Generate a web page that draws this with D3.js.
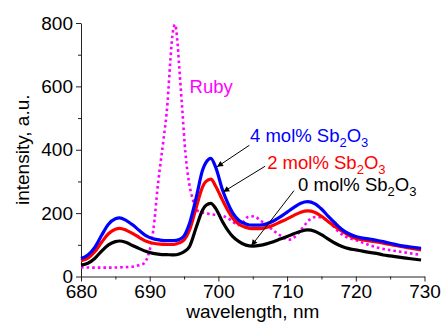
<!DOCTYPE html>
<html>
<head>
<meta charset="utf-8">
<script src="https://cdn.jsdelivr.net/npm/d3@7"></script>
<style>
  html, body { margin: 0; padding: 0; background: #fff; }
  svg { display: block; font-family: "Liberation Sans", Arial, sans-serif; }
</style>
</head>
<body>
<div id="chart"></div>
<script>
// wavelength grid shared by the three Sb2O3 spectra (nm)
const wavelength = [680, 681, 682, 683, 684, 685, 685.6, 686.5, 687.5, 688.5, 689.5, 690.5, 691.5, 692.5, 693.5,
  694.3, 695, 695.8, 696.8, 697.7, 698.2, 698.9, 699.6, 700.6, 701.4, 702.1, 703, 704, 705, 706, 707, 708, 709,
  710, 711, 712, 713, 714, 715, 716, 717, 718, 719, 720, 721, 722, 723, 724, 725, 726, 727, 728, 729.5];

const sb4 = [57, 68, 92, 130, 165, 182, 185, 178, 163, 145, 128, 119, 115, 113, 113,
  117, 128, 168, 252, 336, 360, 373, 345, 273, 230, 200, 177, 166, 162, 162, 166, 175, 188,
  203, 218, 231, 236, 230, 213, 190, 168, 148, 135, 126, 121, 118, 114, 110, 105, 100, 96, 93, 89];

const sb2 = [50, 58, 78, 108, 135, 149, 152, 147, 136, 123, 111, 105, 102, 101, 101,
  106, 115, 147, 220, 283, 300, 307, 285, 241, 208, 184, 165, 155, 151, 151, 155, 162, 172,
  182, 193, 203, 207, 203, 190, 173, 157, 143, 130, 120, 116, 112, 109, 105, 101, 97, 93, 89, 84];

const sb0 = [36, 42, 57, 80, 100, 110, 112, 108, 98, 88, 79, 73, 70, 69, 68,
  71, 78, 95, 157, 210, 225, 231, 215, 173, 145, 126, 110, 99, 96, 98, 103, 110, 118,
  126, 135, 143, 147, 143, 132, 118, 105, 95, 88, 84, 80, 76, 73, 68, 65, 62, 59, 56, 52];

// ruby reference spectrum
const rubyWl = [680, 682, 684, 686, 687.5, 688.5, 689.2, 689.8, 690.3, 690.7, 691.1, 691.5, 692, 692.6, 693, 693.3,
  693.7, 694, 694.3, 694.7, 695.2, 695.7, 696.3, 696.8, 697.5, 698.2, 699, 700, 701, 702, 702.8, 703.6, 704.3,
  705.2, 706.2, 707.2, 708.2, 709.2, 710.2, 711.2, 712.2, 713.2, 714.2, 715.2, 716.2, 717.5, 718.5, 720, 721.5,
  723, 724.8, 726.5, 728, 729.5];
const ruby = [29, 28, 28, 29, 31, 36, 42, 68, 115, 178, 270, 345, 430, 550, 680, 760,
  795, 750, 660, 540, 390, 300, 241, 210, 203, 200, 196, 194, 188, 175, 162, 172, 188,
  190, 175, 160, 142, 127, 116, 126, 152, 178, 188, 185, 170, 141, 126, 115, 103,
  92, 84, 78, 73, 68];

const xTicks = [680, 690, 700, 710, 720, 730];
const xMinor = [685, 695, 705, 715, 725];
const yTicks = [0, 200, 400, 600, 800];
const yMinor = [100, 300, 500, 700];

// Sb2O3 labels: anchor point, arrow start and arrow tip (nm, a.u.)
const labelNames = ['4 mol% Sb', '2 mol% Sb', '0 mol% Sb'];
const labelColors = ['#0000ff', '#ff0000', '#000000'];
const labelAt = [[704.6, 424], [707.1, 339], [711.6, 269]];
const arrowFrom = [[704.5, 414], [706.8, 348], [711, 271]];
const arrowTo = [[699.8, 346], [700.7, 267], [704.8, 97]];

const W = 441, H = 325;
const margin = { top: 23, right: 16.5, bottom: 48.5, left: 81 };

const svg = d3.select('#chart').append('svg')
  .attr('width', W)
  .attr('height', H);

const x = d3.scaleLinear().domain([680, 730]).range([margin.left, W - margin.right]);
const y = d3.scaleLinear().domain([0, 800]).range([H - margin.bottom, margin.top]);

// axes
svg.append('g')
  .attr('transform', `translate(${margin.left},0)`)
  .call(d3.axisLeft(y).tickValues(yTicks).tickSize(5).tickSizeOuter(0).tickPadding(3));
svg.append('g')
  .attr('transform', `translate(${margin.left},0)`)
  .call(d3.axisLeft(y).tickValues(yMinor).tickSize(3).tickFormat(''))
  .select('.domain').remove();

svg.append('g')
  .attr('transform', `translate(0,${H - margin.bottom})`)
  .call(d3.axisBottom(x).tickValues(xTicks).tickSize(5).tickSizeOuter(0).tickPadding(3));
svg.append('g')
  .attr('transform', `translate(0,${H - margin.bottom})`)
  .call(d3.axisBottom(x).tickValues(xMinor).tickSize(3).tickFormat(''))
  .select('.domain').remove();

svg.selectAll('.tick text')
  .attr('font-size', 19)
  .attr('font-family', '"Liberation Sans", Arial, sans-serif')
  .attr('fill', '#000');
svg.selectAll('.domain, .tick line').attr('stroke', '#222');

// axis titles
svg.append('text')
  .attr('transform', `translate(29,${(y(0) + y(800)) / 2}) rotate(-90)`)
  .attr('text-anchor', 'middle')
  .attr('font-size', 19)
  .text('intensity, a.u.');

svg.append('text')
  .attr('x', (x(680) + x(730)) / 2)
  .attr('y', 318)
  .attr('text-anchor', 'middle')
  .attr('font-size', 19)
  .text('wavelength, nm');

// spectra
const line = d3.line()
  .x(d => x(d[0]))
  .y(d => y(d[1]))
  .curve(d3.curveMonotoneX);

svg.append('path')
  .datum(rubyWl.map((w, i) => [w, ruby[i]]))
  .attr('d', line)
  .attr('fill', 'none')
  .attr('stroke', '#ff00ff')
  .attr('stroke-width', 2.6)
  .attr('stroke-dasharray', '2.6,3');

[[sb0, '#000000'], [sb2, '#ff0000'], [sb4, '#0000ff']].forEach(([vals, color]) => {
  svg.append('path')
    .datum(wavelength.map((w, i) => [w, vals[i]]))
    .attr('d', line)
    .attr('fill', 'none')
    .attr('stroke', color)
    .attr('stroke-width', 3.2)
    .attr('stroke-linejoin', 'round');
});

// ruby label
svg.append('text')
  .attr('x', x(695.8))
  .attr('y', y(580))
  .attr('font-size', 18.5)
  .attr('fill', '#ff00ff')
  .text('Ruby');

// arrows
svg.append('defs').append('marker')
  .attr('id', 'arr')
  .attr('viewBox', '0 0 10 10')
  .attr('refX', 10)
  .attr('refY', 5)
  .attr('markerWidth', 8)
  .attr('markerHeight', 6)
  .attr('markerUnits', 'userSpaceOnUse')
  .attr('orient', 'auto')
  .append('path')
  .attr('d', 'M0,0L10,5L0,10Z')
  .attr('fill', '#000');

arrowFrom.forEach((a, i) => {
  svg.append('line')
    .attr('x1', x(a[0])).attr('y1', y(a[1]))
    .attr('x2', x(arrowTo[i][0])).attr('y2', y(arrowTo[i][1]))
    .attr('stroke', '#000')
    .attr('stroke-width', 1)
    .attr('marker-end', 'url(#arr)');
});

// Sb2O3 labels with subscripts
labelNames.forEach((name, i) => {
  const t = svg.append('text')
    .attr('x', x(labelAt[i][0]))
    .attr('y', y(labelAt[i][1]))
    .attr('font-size', 18.5)
    .attr('fill', labelColors[i]);
  t.append('tspan').text(name);
  t.append('tspan').attr('font-size', 13).attr('dy', 5).text('2');
  t.append('tspan').attr('dy', -5).text('O');
  t.append('tspan').attr('font-size', 13).attr('dy', 5).text('3');
});
</script>
</body>
</html>
